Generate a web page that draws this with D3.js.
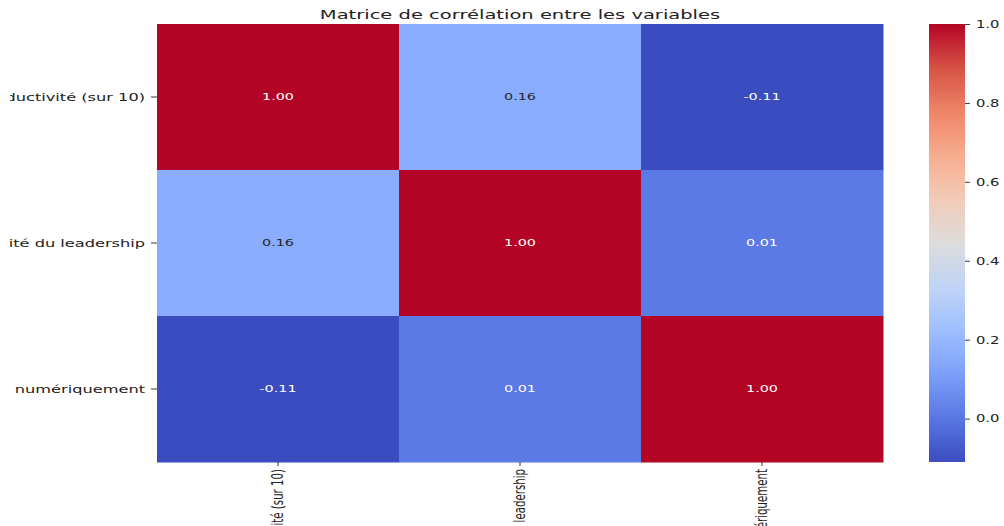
<!DOCTYPE html>
<html>
<head>
<meta charset="utf-8">
<script src="https://cdn.jsdelivr.net/npm/d3@7"></script>
<style>
  html, body { margin: 0; padding: 0; background: #fff; }
  svg { display: block; }
  text { font-family: "DejaVu Sans", sans-serif; }
</style>
</head>
<body>
<svg id="chart" width="1004" height="526"></svg>
<script>
// Variables of the correlation matrix (rows and columns share the same order)
const variables = [
  "Productivité (sur 10)",
  "Qualité du leadership",
  "Compétences numériquement"
];

// Pearson correlation coefficients, one row per variable
const correlations = [
  [1.00, 0.16, -0.11],
  [0.16, 1.00, 0.01],
  [-0.11, 0.01, 1.00]
];

// Colour bar tick values
const colorbarTicks = [0.0, 0.2, 0.4, 0.6, 0.8, 1.0];

// "coolwarm" diverging palette stops, sampled evenly from 0 to 1
const coolwarmStops = [
  "#3b4cc0", "#5977e3", "#7b9ff9", "#9ebeff", "#c0d4f5", "#dddcdc",
  "#f2cbb7", "#f7ac8e", "#ee8468", "#d65244", "#b40426"
];

const title = "Matrice de corrélation entre les variables";

// ---------------------------------------------------------------------------
const svg = d3.select("#chart");
const SX = 1.5; // horizontal text stretch used throughout the figure

const plot = { left: 157, right: 883, top: 24, bottom: 462 };
const bar = { left: 929, right: 965 };
const figureLeft = 10; // left edge of the drawable figure area

const flat = correlations.flat();
const vmin = d3.min(flat), vmax = d3.max(flat);

const coolwarm = d3.piecewise(d3.interpolateRgb, coolwarmStops);
const color = d3.scaleSequential(coolwarm).domain([vmin, vmax]);

const x = d3.scaleBand().domain(variables).range([plot.left, plot.right]);
const y = d3.scaleBand().domain(variables).range([plot.top, plot.bottom]);

const fmt2 = v => d3.format(".2f")(v).replace("\u2212", "-");

const cells = [];
correlations.forEach((row, i) => row.forEach((v, j) => {
  cells.push({ row: variables[i], col: variables[j], value: v });
}));

svg.append("defs").append("clipPath")
  .attr("id", "figclip")
  .append("rect")
  .attr("x", figureLeft).attr("y", 0)
  .attr("width", 1004 - figureLeft).attr("height", 526);

// Heatmap cells
svg.append("g")
  .selectAll("rect")
  .data(cells)
  .join("rect")
  .attr("x", d => x(d.col))
  .attr("y", d => y(d.row))
  .attr("width", x.bandwidth() + 0.5)
  .attr("height", y.bandwidth() + 0.5)
  .attr("fill", d => color(d.value));

// Annotations: dark text on light cells, white text on dark ones
function relLuminance(c) {
  const lin = u => {
    u /= 255;
    return u <= 0.03928 ? u / 12.92 : Math.pow((u + 0.055) / 1.055, 2.4);
  };
  return 0.2126 * lin(c.r) + 0.7152 * lin(c.g) + 0.0722 * lin(c.b);
}
function textColor(v) {
  return relLuminance(d3.rgb(color(v))) > 0.408 ? "#262626" : "#ffffff";
}

svg.append("g")
  .selectAll("text")
  .data(cells)
  .join("text")
  .attr("transform", d => `translate(${x(d.col) + x.bandwidth() / 2},${y(d.row) + y.bandwidth() / 2}) scale(${SX},1)`)
  .attr("text-anchor", "middle")
  .attr("dy", "0.36em")
  .attr("font-size", 9.6)
  .attr("fill", d => textColor(d.value))
  .text(d => fmt2(d.value));

// Y axis (row labels)
const yAxis = svg.append("g")
  .attr("clip-path", "url(#figclip)")
  .append("g")
  .attr("transform", `translate(${plot.left},0)`)
  .call(d3.axisLeft(y).tickSize(6).tickSizeOuter(0));
yAxis.select(".domain").remove();
yAxis.selectAll(".tick line").attr("stroke", "#222").attr("stroke-width", 0.9);
yAxis.selectAll(".tick text")
  .attr("x", null)
  .attr("dy", "0.34em")
  .attr("transform", `translate(-12,0) scale(${SX},1)`)
  .attr("text-anchor", "end")
  .attr("font-size", 10.8)
  .attr("fill", "#222");

// X axis (column labels, rotated)
const xAxis = svg.append("g")
  .attr("transform", `translate(0,${plot.bottom})`)
  .call(d3.axisBottom(x).tickSize(4).tickSizeOuter(0));
xAxis.select(".domain").remove();
xAxis.selectAll(".tick line").attr("stroke", "#222").attr("stroke-width", 0.9);
xAxis.selectAll(".tick text")
  .attr("y", null)
  .attr("dy", "0.34em")
  .attr("transform", `translate(0,7) scale(${SX},1) rotate(-90)`)
  .attr("text-anchor", "end")
  .attr("font-size", 10.2)
  .attr("fill", "#222");

// Title
svg.append("text")
  .attr("transform", `translate(${(plot.left + plot.right) / 2},19) scale(${SX},1)`)
  .attr("text-anchor", "middle")
  .attr("font-size", 13)
  .attr("fill", "#222")
  .text(title);

// Colour bar
const cy = d3.scaleLinear().domain([vmin, vmax]).range([plot.bottom, plot.top]);

const grad = svg.select("defs").append("linearGradient")
  .attr("id", "cbar")
  .attr("x1", 0).attr("y1", 1).attr("x2", 0).attr("y2", 0);
d3.range(0, 1.0001, 1 / 64).forEach(t => {
  grad.append("stop")
    .attr("offset", t)
    .attr("stop-color", color(vmin + t * (vmax - vmin)));
});

svg.append("rect")
  .attr("x", bar.left)
  .attr("y", plot.top)
  .attr("width", bar.right - bar.left)
  .attr("height", plot.bottom - plot.top)
  .attr("fill", "url(#cbar)");

const cAxis = svg.append("g")
  .attr("transform", `translate(${bar.right},0)`)
  .call(d3.axisRight(cy).tickValues(colorbarTicks).tickFormat(d3.format(".1f")).tickSize(5));
cAxis.select(".domain").remove();
cAxis.selectAll(".tick line").attr("stroke", "#222").attr("stroke-width", 0.9);
cAxis.selectAll(".tick text")
  .attr("x", null)
  .attr("dy", "0.34em")
  .attr("transform", `translate(11,0) scale(${SX},1)`)
  .attr("text-anchor", "start")
  .attr("font-size", 9.8)
  .attr("fill", "#222");
</script>
</body>
</html>
